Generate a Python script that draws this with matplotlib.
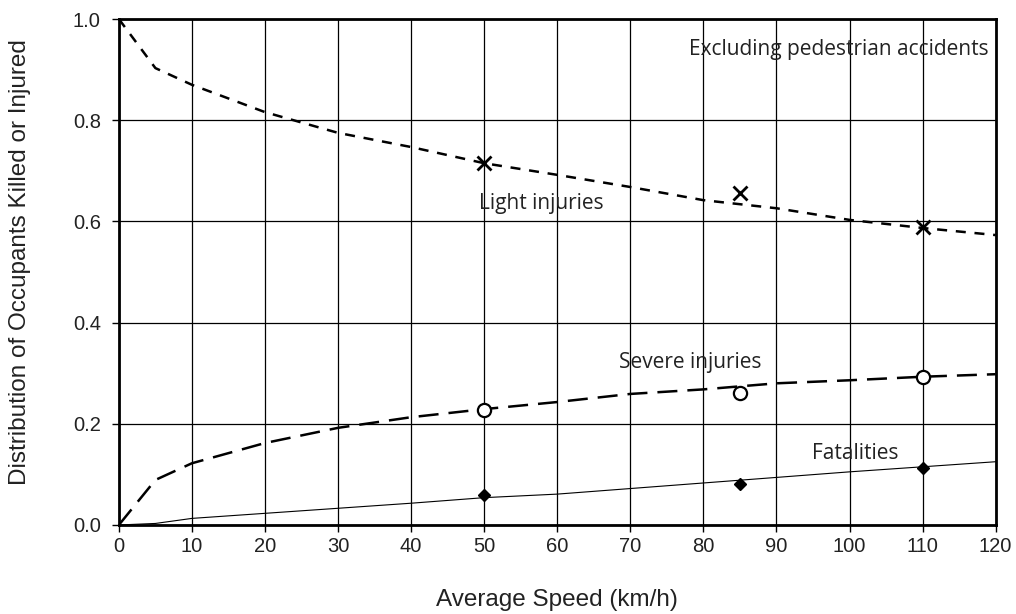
import matplotlib.pyplot as plt
import numpy as np

# fitted curves
speed_curve = [0, 5, 10, 20, 30, 40, 50, 60, 70, 80, 90, 100, 110, 120]
light_curve = [1.0, 0.903, 0.87, 0.816, 0.775, 0.747, 0.715, 0.692, 0.668, 0.642, 0.626, 0.603, 0.587, 0.573]
severe_curve = [0.0, 0.089, 0.122, 0.162, 0.192, 0.213, 0.229, 0.243, 0.259, 0.268, 0.28, 0.286, 0.293, 0.298]
fatal_curve = [0.0, 0.003, 0.013, 0.023, 0.033, 0.043, 0.054, 0.061, 0.072, 0.083, 0.094, 0.105, 0.115, 0.125]

# observed points
speed_obs = [50, 85, 110]
light_obs = [0.715, 0.656, 0.589]
severe_obs = [0.227, 0.26, 0.293]
fatal_obs = [0.059, 0.081, 0.112]

xticks = np.arange(0, 121, 10)
yticks = [0.0, 0.2, 0.4, 0.6, 0.8, 1.0]

plt.rcParams['font.family'] = ['Liberation Sans', 'DejaVu Sans']
note_font = ['Open Sans', 'DejaVu Sans']
txt_col = '#222222'

fig = plt.figure(figsize=(10.16, 6.14), dpi=100)
ax = fig.add_axes([0.117, 0.145, 0.863, 0.824])

ax.plot(speed_curve, light_curve, color='black', lw=1.8, dashes=(4, 3.5))
ax.plot(speed_curve, severe_curve, color='black', lw=1.8, dashes=(8, 4))
ax.plot(speed_curve, fatal_curve, color='black', lw=0.8)

ax.plot(speed_obs, light_obs, 'x', color='black', ms=10, mew=2)
ax.plot(speed_obs, severe_obs, 'o', mfc='white', mec='black', ms=9.5, mew=1.6)
ax.plot(speed_obs, fatal_obs, 'D', color='black', ms=6.5)

ax.set_xlim(0, 120)
ax.set_ylim(0, 1.0)
ax.set_xticks(xticks)
ax.set_yticks(yticks)
ax.set_yticklabels([f'{v:.1f}' for v in yticks])
ax.grid(True, color='black', lw=0.9)
ax.set_axisbelow(True)
for s in ax.spines.values():
    s.set_linewidth(2)
    s.set_color('black')
ax.tick_params(labelsize=14.5, labelcolor=txt_col, direction='out', length=5, width=1)
ax.tick_params(axis='y', pad=8)

ax.set_xlabel('Average Speed (km/h)', fontsize=17.5, color=txt_col, labelpad=24)
ax.set_ylabel('Distribution of Occupants Killed or Injured', fontsize=17.5, color=txt_col)
ax.yaxis.set_label_coords(-0.1, 0.52)

ax.text(119, 0.939, 'Excluding pedestrian accidents', fontsize=15, family=note_font,
        color=txt_col, ha='right', va='center')
ax.text(49.3, 0.636, 'Light injuries', fontsize=15, family=note_font, color=txt_col, ha='left', va='center')
ax.text(68.5, 0.322, 'Severe injuries', fontsize=15, family=note_font, color=txt_col, ha='left', va='center')
ax.text(94.8, 0.142, 'Fatalities', fontsize=15, family=note_font, color=txt_col, ha='left', va='center')

fig.savefig('out.png', dpi=100)
